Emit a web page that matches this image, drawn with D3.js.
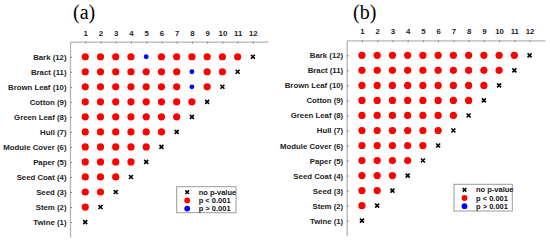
<!DOCTYPE html>
<html>
<head>
<meta charset="utf-8">
<script src="https://cdn.jsdelivr.net/npm/d3@7"></script>
<style>
  body { margin: 0; background: #fff; }
  svg { display: block; }
</style>
</head>
<body>
<svg id="chart"></svg>
<script>
// categories, top to bottom, with their sample counts
const categories = ["Bark (12)", "Bract (11)", "Brown Leaf (10)", "Cotton (9)", "Green Leaf (8)", "Hull (7)",
  "Module Cover (6)", "Paper (5)", "Seed Coat (4)", "Seed (3)", "Stem (2)", "Twine (1)"];
const counts = [12, 11, 10, 9, 8, 7, 6, 5, 4, 3, 2, 1];
const xTicks = [1, 2, 3, 4, 5, 6, 7, 8, 9, 10, 11, 12];
const legendLabels = ["no p-value", "p < 0.001", "p > 0.001"];

// 1 = p < 0.001 (red), 0 = p > 0.001 (blue); the diagonal cell is "no p-value"
const sigA = [
  [1, 1, 1, 1, 0, 1, 1, 1, 1, 1, 1],
  [1, 1, 1, 1, 1, 1, 1, 0, 1, 1],
  [1, 1, 1, 1, 1, 1, 1, 0, 1],
  [1, 1, 1, 1, 1, 1, 1, 1],
  [1, 1, 1, 1, 1, 1, 1],
  [1, 1, 1, 1, 1, 1],
  [1, 1, 1, 1, 1],
  [1, 1, 1, 1],
  [1, 1, 1],
  [1, 1],
  [1],
  []
];
const sigB = [
  [1, 1, 1, 1, 1, 1, 1, 1, 1, 1, 1],
  [1, 1, 1, 1, 1, 1, 1, 1, 1, 1],
  [1, 1, 1, 1, 1, 1, 1, 1, 1],
  [1, 1, 1, 1, 1, 1, 1, 1],
  [1, 1, 1, 1, 1, 1, 1],
  [1, 1, 1, 1, 1, 1],
  [1, 1, 1, 1, 1],
  [1, 1, 1, 1],
  [1, 1, 1],
  [1, 1],
  [1],
  []
];

const width = 550;
const height = 242;
const svg = d3.select("#chart").attr("width", width).attr("height", height);

const RED = "#ff0000";
const BLUE = "#0000ff";
const AXIS = "#b4b4b4";
const FONT = "'Liberation Sans', Arial, sans-serif";

function crossPath(cx, cy, s) {
  return `M${cx - s},${cy - s}L${cx + s},${cy + s}M${cx - s},${cy + s}L${cx + s},${cy - s}`;
}

function drawPanel(opts) {
  const { title, titleX, left, top, sig, legend } = opts;
  const stepX = 15.24;
  const stepY = 15.03;

  const x = d3.scaleLinear().domain([0, 13]).range([left, left + 13 * stepX]);
  const y = d3.scaleLinear().domain([13, 0]).range([top, top + 13 * stepY]);

  const g = svg.append("g");

  // title
  g.append("text")
    .attr("x", titleX)
    .attr("y", 19)
    .style("font-family", "'Liberation Serif', 'Times New Roman', serif")
    .style("font-size", "20px")
    .style("fill", "#000")
    .text(title);

  // top axis
  const xAxis = g.append("g")
    .attr("transform", `translate(0,${top})`)
    .call(d3.axisTop(x).tickValues(xTicks).tickSizeInner(-2).tickSizeOuter(0).tickPadding(6));

  // left axis
  const yAxis = g.append("g")
    .attr("transform", `translate(${left},0)`)
    .call(d3.axisLeft(y).tickValues(counts).tickSizeInner(-2).tickSizeOuter(0).tickPadding(3.5)
      .tickFormat((d) => categories[counts.indexOf(d)]));

  [xAxis, yAxis].forEach((a) => {
    a.select(".domain").attr("stroke", AXIS).attr("stroke-width", 1.3);
    a.selectAll(".tick line").attr("stroke", "#888").attr("stroke-width", 1);
    a.selectAll(".tick text")
      .style("font-family", FONT)
      .style("font-size", "7.8px")
      .style("font-weight", "bold")
      .style("fill", "#222");
  });

  // cells
  const cells = [];
  counts.forEach((n, i) => {
    sig[i].forEach((s, j) => cells.push({ row: n, col: j + 1, s }));
  });

  g.selectAll("circle.cell")
    .data(cells)
    .join("circle")
    .attr("class", "cell")
    .attr("cx", (d) => x(d.col))
    .attr("cy", (d) => y(d.row))
    .attr("r", (d) => (d.s ? 3.6 : 2.4))
    .attr("fill", (d) => (d.s ? RED : BLUE));

  // diagonal: no p-value
  g.selectAll("path.nop")
    .data(counts)
    .join("path")
    .attr("class", "nop")
    .attr("d", (n) => crossPath(x(n), y(n), 2))
    .attr("stroke", "#000")
    .attr("stroke-width", 1.6)
    .attr("fill", "none");

  // legend
  const lg = g.append("g");
  lg.append("rect")
    .attr("x", legend.x)
    .attr("y", legend.y)
    .attr("width", legend.w)
    .attr("height", legend.h)
    .attr("fill", "#fff")
    .attr("stroke", "#999")
    .attr("stroke-width", 1);

  legendLabels.forEach((label, k) => {
    const ly = legend.y + 5.5 + k * 8.2;
    const mx = legend.x + 10.5;
    if (k === 0) {
      lg.append("path")
        .attr("d", crossPath(mx, ly, 1.8))
        .attr("stroke", "#000")
        .attr("stroke-width", 1.5);
    } else {
      lg.append("circle")
        .attr("cx", mx)
        .attr("cy", ly)
        .attr("r", 2.9)
        .attr("fill", k === 1 ? RED : BLUE);
    }
    lg.append("text")
      .attr("x", legend.x + 22)
      .attr("y", ly)
      .attr("dy", "0.35em")
      .style("font-family", FONT)
      .style("font-size", "7.5px")
      .style("font-weight", "bold")
      .style("fill", "#111")
      .text(label);
  });
}

drawPanel({
  title: "(a)",
  titleX: 73,
  left: 70,
  top: 41.7,
  sig: sigA,
  legend: { x: 176.7, y: 186.7, w: 59.3, h: 26 }
});

drawPanel({
  title: "(b)",
  titleX: 353,
  left: 346.7,
  top: 40.3,
  sig: sigB,
  legend: { x: 454, y: 184.3, w: 58.3, h: 26.7 }
});
</script>
</body>
</html>
